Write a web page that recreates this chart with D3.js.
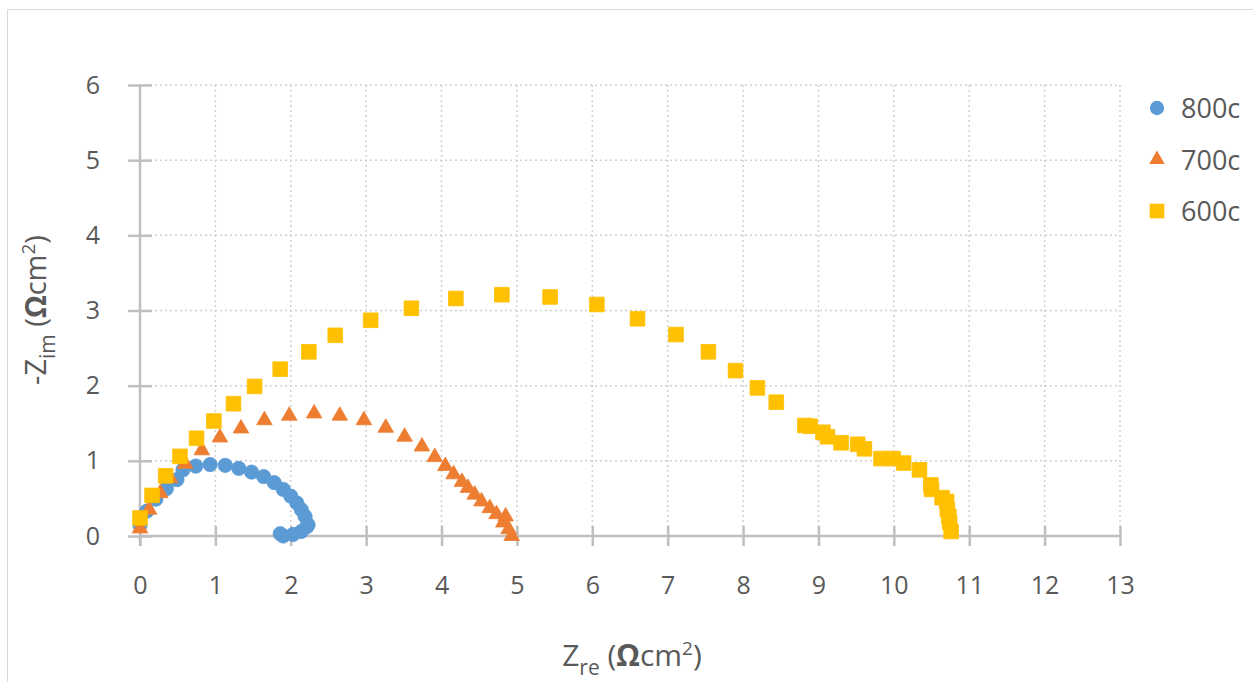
<!DOCTYPE html>
<html>
  <head>
      <title>Nyquist plot</title>
      <script src="https://cdn.jsdelivr.net/npm/d3@7/dist/d3.min.js"></script>
      <style>
        body { margin: 0; background: #fff; }
        text { font-family: "Open Sans", "Noto Sans", sans-serif; fill: #595959; }
      </style>
  </head>
  <body>
        <div></div>
        <script>
           var seriesNames = ["800c", "700c", "600c"]
           var seriesColors = ["#5B9BD5", "#ED7D31", "#FFC000"]
           var xTicks = [0,1,2,3,4,5,6,7,8,9,10,11,12,13]
           var yTicks = [0,1,2,3,4,5,6]

           var re800 = [0.00,0.09,0.21,0.35,0.49,0.57,0.74,0.93,1.13,1.31,1.48,1.64,1.78,1.90,2.00,2.08,2.14,2.19,2.23,2.21,2.14,2.03,1.90,1.86]
           var im800 = [0.14,0.33,0.49,0.63,0.75,0.88,0.93,0.95,0.94,0.90,0.85,0.79,0.71,0.62,0.53,0.44,0.35,0.26,0.15,0.12,0.06,0.02,0.00,0.03]

           var re700 = [0.00,0.12,0.27,0.40,0.60,0.82,1.06,1.34,1.65,1.98,2.31,2.65,2.97,3.26,3.51,3.74,3.91,4.05,4.16,4.27,4.35,4.44,4.53,4.64,4.73,4.85,4.82,4.89,4.93]
           var im700 = [0.10,0.35,0.57,0.77,0.96,1.14,1.31,1.43,1.54,1.60,1.63,1.60,1.54,1.44,1.32,1.19,1.05,0.93,0.82,0.72,0.64,0.55,0.46,0.37,0.29,0.26,0.18,0.09,0.00]

           var re600 = [0.00,0.16,0.34,0.53,0.75,0.98,1.24,1.52,1.86,2.24,2.59,3.06,3.60,4.19,4.80,5.44,6.06,6.60,7.11,7.54,7.90,8.19,8.44,8.82,8.89,9.06,9.12,9.30,9.52,9.61,9.83,9.99,10.13,10.34,10.49,10.50,10.64,10.70,10.71,10.73,10.74,10.76]
           var im600 = [0.24,0.54,0.80,1.06,1.30,1.53,1.76,1.99,2.22,2.45,2.67,2.87,3.03,3.16,3.21,3.18,3.08,2.89,2.68,2.45,2.20,1.97,1.78,1.47,1.46,1.38,1.32,1.24,1.22,1.16,1.03,1.03,0.97,0.88,0.68,0.62,0.51,0.46,0.35,0.26,0.18,0.06]

           var series = [
               {name: seriesNames[0], color: seriesColors[0], symbol: d3.symbolCircle, size: 160, re: re800, im: im800},
               {name: seriesNames[1], color: seriesColors[1], symbol: d3.symbolTriangle, size: 105, re: re700, im: im700},
               {name: seriesNames[2], color: seriesColors[2], symbol: d3.symbolSquare, size: 215, re: re600, im: im600}
           ]

           var width = 1253, height = 682
           var x = d3.scaleLinear().domain([0,13]).range([140,1120])
           var y = d3.scaleLinear().domain([0,6]).range([536,85])

           var svg = d3.select("div").append("svg").attr("width",width).attr("height",height)
           svg.append("rect").attr("x",7.5).attr("y",9.5).attr("width",width).attr("height",height)
              .attr("fill","#fff").attr("stroke","#d9d9d9")

           // dotted grid
           svg.append("g").selectAll("line").data(xTicks.slice(1)).enter().append("line")
              .attr("x1",d=>x(d)).attr("x2",d=>x(d)).attr("y1",y(6)).attr("y2",y(0))
              .attr("stroke","#d0d0d0").attr("stroke-width",1.5).attr("stroke-dasharray","2,3")
           svg.append("g").selectAll("line").data(yTicks.slice(1)).enter().append("line")
              .attr("x1",x(0)).attr("x2",x(13)).attr("y1",d=>y(d)).attr("y2",d=>y(d))
              .attr("stroke","#d0d0d0").attr("stroke-width",1.5).attr("stroke-dasharray","2,3")

           // axes with cross ticks
           var xAxis = svg.append("g").attr("transform","translate(0,"+y(0)+")")
              .call(d3.axisBottom(x).tickValues(xTicks).tickSize(10).tickPadding(30).tickFormat(d3.format("d")))
           var yAxis = svg.append("g").attr("transform","translate("+x(0)+",0)")
              .call(d3.axisLeft(y).tickValues(yTicks).tickSize(12).tickPadding(28).tickFormat(d3.format("d")))
           ;[xAxis,yAxis].forEach(a => {
               a.select(".domain").attr("stroke","#bfbfbf").attr("stroke-width",2.5)
               a.selectAll(".tick line").attr("stroke","#bfbfbf").attr("stroke-width",2.5)
               a.selectAll(".tick text").attr("font-size",25).attr("fill","#595959")
                .attr("font-family","'Open Sans', sans-serif")
           })
           xAxis.selectAll(".tick line").attr("y1",-10)
           yAxis.selectAll(".tick line").attr("x1",12)
           xAxis.select(".domain").attr("d","M"+x(0)+",0H"+x(13))
           yAxis.select(".domain").attr("d","M0,"+y(6)+"V"+(y(0)+10))

           // points
           series.forEach(s => {
               var sym = d3.symbol().type(s.symbol).size(s.size)
               svg.append("g").selectAll("path").data(s.re).enter().append("path")
                  .attr("d",sym)
                  .attr("transform",(d,i)=>"translate("+x(d)+","+y(s.im[i])+")")
                  .attr("fill",s.color).attr("stroke",s.color).attr("stroke-width",0.8)
           })

           // legend
           var leg = svg.append("g").selectAll("g").data(series).enter().append("g")
              .attr("transform",(d,i)=>"translate(1157,"+(108+i*51.5)+")")
           leg.append("path").attr("d",d=>d3.symbol().type(d.symbol).size(d.size)()).attr("fill",d=>d.color)
           leg.append("text").attr("x",24).attr("y",10).attr("font-size",27).text(d=>d.name)

           // axis titles
           var xt = svg.append("text").attr("x",632).attr("y",666).attr("text-anchor","middle").attr("font-size",30)
           xt.append("tspan").text("Z")
           xt.append("tspan").attr("font-size",21).attr("dy",9).text("re")
           xt.append("tspan").attr("dy",-9).text(" (")
           xt.append("tspan").attr("font-weight","bold").text("Ω")
           xt.append("tspan").text("cm")
           xt.append("tspan").attr("font-size",19).attr("dy",-11).text("2")
           xt.append("tspan").attr("dy",11).text(")")

           var yt = svg.append("text").attr("transform","translate(46,310) rotate(-90)").attr("text-anchor","middle").attr("font-size",29)
           yt.append("tspan").text("-Z")
           yt.append("tspan").attr("font-size",21).attr("dy",9).text("im")
           yt.append("tspan").attr("dy",-9).text(" (")
           yt.append("tspan").attr("font-weight","bold").text("Ω")
           yt.append("tspan").text("cm")
           yt.append("tspan").attr("font-size",19).attr("dy",-11).text("2")
           yt.append("tspan").attr("dy",11).text(")")
        </script>
  </body>
</html>
